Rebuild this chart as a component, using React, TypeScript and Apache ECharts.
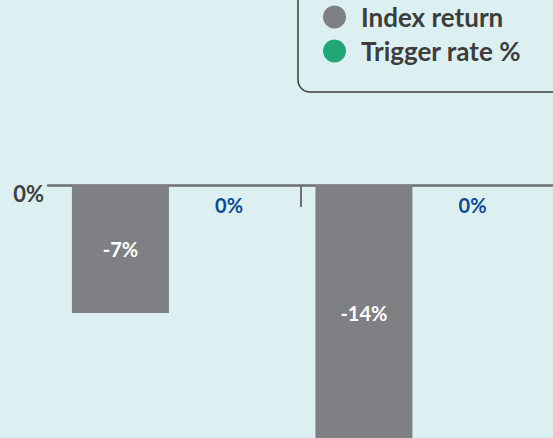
import React, { useEffect, useRef } from "react";
import * as echarts from "echarts";

const categories = ["Scenario A", "Scenario B"];
const indexReturn = [-7, -14];
const triggerRate = [0, 0];
const yTicks = [-14, 0];
// boundary points of the two categories (start, middle, end) for the baseline axis
const categoryBoundaries = ["start", "middle", "end"];

export default function App() {
  const ref = useRef<HTMLDivElement>(null);
  useEffect(() => {
    if (!ref.current) return;
    const chart = echarts.init(ref.current, undefined, { renderer: "svg" });
    const font = "Lato";
    chart.setOption({
      animation: false,
      backgroundColor: "#dcf0f2",
      textStyle: { fontFamily: font },
      graphic: [
        {
          type: "rect",
          z: 1,
          shape: { x: 298, y: -20, width: 300, height: 112, r: 12 },
          style: { fill: "transparent", stroke: "#3c3c3c", lineWidth: 1.5 },
        },
      ],
      legend: {
        orient: "vertical",
        left: 323,
        top: 4,
        padding: 0,
        itemGap: 8,
        itemWidth: 23,
        itemHeight: 23,
        icon: "circle",
        textStyle: {
          fontFamily: font,
          fontWeight: "bold",
          fontSize: 26,
          color: "#3d3d3d",
          lineHeight: 23,
          height: 23,
          padding: [0, 0, 0, 10],
        },
        data: ["Index return", "Trigger rate %"],
      },
      grid: [
        { left: 53, right: 13, top: 185, bottom: 29 },
        { left: 48, right: 0, top: 185, height: 10 },
      ],
      xAxis: [
        {
          type: "category",
          gridIndex: 0,
          data: categories,
          show: false,
        },
        {
          type: "category",
          gridIndex: 1,
          data: categoryBoundaries,
          boundaryGap: false,
          position: "top",
          axisLine: { show: true, onZero: false, lineStyle: { color: "#6d6e71", width: 2.5 } },
          axisTick: {
            show: true,
            inside: true,
            length: 22,
            interval: (idx: number) => idx === 1,
            lineStyle: { color: "#6d6e71", width: 2 },
          },
          axisLabel: { show: false },
        },
      ],
      yAxis: [
        {
          type: "value",
          gridIndex: 0,
          min: yTicks[0],
          max: yTicks[1],
          interval: 14,
          axisLine: { show: false },
          axisTick: { show: false },
          splitLine: { show: false },
          axisLabel: {
            margin: 9,
            fontFamily: font,
            fontWeight: "bold",
            fontSize: 22,
            color: "#404040",
            verticalAlign: "top",
            lineHeight: 17,
            formatter: (v: number) => (v === 0 ? "0%" : ""),
          },
        },
        { type: "value", gridIndex: 1, show: false },
      ],
      series: [
        {
          name: "Index return",
          type: "bar",
          xAxisIndex: 0,
          yAxisIndex: 0,
          data: indexReturn,
          barWidth: 97,
          barGap: "12%",
          itemStyle: { color: "#7f8083" },
          label: {
            show: true,
            position: "inside",
            color: "#ffffff",
            fontFamily: font,
            fontWeight: "bold",
            fontSize: 20,
            formatter: (p: any) => `${p.value}%`,
          },
        },
        {
          name: "Trigger rate %",
          type: "bar",
          xAxisIndex: 0,
          yAxisIndex: 0,
          data: triggerRate,
          barWidth: 97,
          itemStyle: { color: "#22a675" },
          label: {
            show: true,
            position: "bottom",
            distance: 10,
            color: "#0d4b8e",
            fontFamily: font,
            fontWeight: "bold",
            fontSize: 20,
            formatter: (p: any) => `${p.value}%`,
          },
        },
      ],
    });
    return () => chart.dispose();
  }, []);
  return (
    <div style={{ position: "absolute", left: 0, top: 0, width: 553, height: 438, overflow: "hidden" }}>
      <div ref={ref} style={{ width: 553, height: 470 }} />
    </div>
  );
}
